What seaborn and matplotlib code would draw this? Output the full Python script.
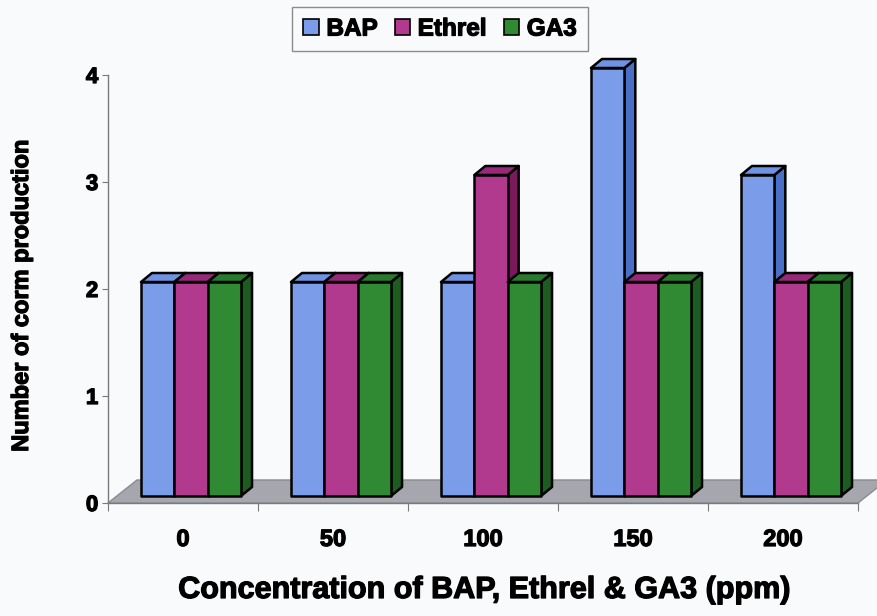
import numpy as np
import pandas as pd
import matplotlib
matplotlib.use('Agg')
import matplotlib.pyplot as plt
import matplotlib.transforms as mtransforms
import matplotlib.patheffects as pe
from matplotlib.patches import Polygon
import seaborn as sns

# data
concentrations = ['0', '50', '100', '150', '200']
bap = [2, 2, 2, 4, 3]
ethrel = [2, 2, 3, 2, 2]
ga3 = [2, 2, 2, 2, 2]
treatments = ['BAP', 'Ethrel', 'GA3']

front_cols = ['#7b9de9', '#b23a8e', '#2f8a33']
side_cols = ['#4a6fc6', '#7a1a5c', '#1d5c21']
top_cols = ['#6f93e3', '#98297a', '#287a2c']

df = pd.DataFrame({
    'conc': concentrations * 3,
    'treatment': np.repeat(treatments, len(concentrations)),
    'value': bap + ethrel + ga3,
})

sns.set_style('white')
plt.rcParams['font.family'] = ['Liberation Sans', 'DejaVu Sans']
plt.rcParams['font.weight'] = 'bold'
plt.rcParams['text.color'] = 'black'
plt.rcParams['axes.labelcolor'] = 'black'
plt.rcParams['xtick.labelcolor'] = 'black'
plt.rcParams['ytick.labelcolor'] = 'black'

thick = [pe.withStroke(linewidth=0.9, foreground='black')]

fig = plt.figure(figsize=(8.77, 6.16), dpi=100, facecolor='#f9fafc')
ax = fig.add_axes([108/877, 113/616, 750/877, 428/616])
ax.set_facecolor('none')

sns.barplot(data=df, x='conc', y='value', hue='treatment', palette=front_cols,
            saturation=1, width=0.667, gap=0, edgecolor='black', linewidth=1.8,
            ax=ax, legend=True)
ax.set_xlim(-0.5, 4.5)
ax.set_ylim(0, 4)

# pixel -> data scale
p0 = ax.transData.transform((0, 0))
p1 = ax.transData.transform((1, 1))
px_x = p1[0] - p0[0]
px_y = p1[1] - p0[1]

# which hue each bar belongs to
bars = []
for hi, cont in enumerate(ax.containers):
    for bar in cont:
        bars.append((bar, hi))
bars.sort(key=lambda b: b[0].get_x())

# floor
fdx, fdy = 29 / px_x, 23 / px_y
floor = Polygon([(-0.5, 0), (4.5, 0), (4.5 + fdx, fdy), (-0.5 + fdx, fdy)],
                closed=True, facecolor='#a6a6ae', edgecolor='#8a8a90', lw=1,
                zorder=1, clip_on=False)
ax.add_patch(floor)

# 3d look for bars: shift fronts, add top and side faces
shift = mtransforms.offset_copy(ax.transData, fig=fig, x=8, y=7, units='dots')
ddx, ddy = 11 / px_x, 9 / px_y
for k, (bar, col) in enumerate(bars):
    x, w, h = bar.get_x(), bar.get_width(), bar.get_height()
    z = 3 + k * 3
    top = Polygon([(x, h), (x + w, h), (x + w + ddx, h + ddy), (x + ddx, h + ddy)],
                  closed=True, facecolor=top_cols[col], edgecolor='black', lw=1.8,
                  transform=shift, zorder=z, clip_on=False, joinstyle='round')
    side = Polygon([(x + w, 0), (x + w + ddx, ddy), (x + w + ddx, h + ddy), (x + w, h)],
                   closed=True, facecolor=side_cols[col], edgecolor='black', lw=1.8,
                   transform=shift, zorder=z, clip_on=False, joinstyle='round')
    ax.add_patch(side)
    ax.add_patch(top)
    bar.set_transform(shift)
    bar.set_zorder(z + 1)
    bar.set_clip_on(False)
    bar.set_joinstyle('round')

# axes styling
for s in ['top', 'right']:
    ax.spines[s].set_visible(False)
for s in ['left', 'bottom']:
    ax.spines[s].set_color('#7a7a7a')
    ax.spines[s].set_linewidth(1)
    ax.spines[s].set_zorder(2)

ax.set_yticks([0, 1, 2, 3, 4])
ax.tick_params(axis='y', direction='out', length=4, color='#7a7a7a',
               labelsize=16, pad=3, left=True)
ax.set_xticks(np.arange(-0.5, 5, 1))
ax.set_xticklabels([])
ax.set_xticks(range(5), minor=True)
ax.set_xticklabels(concentrations, minor=True)
ax.tick_params(axis='x', which='major', direction='out', length=6,
               color='#7a7a7a', bottom=True)
ax.tick_params(axis='x', which='minor', length=0, labelsize=17, pad=18)
for t in ax.get_yticklabels() + ax.get_xticklabels(minor=True):
    t.set_fontweight('bold')
    t.set_path_effects(thick)

ax.set_xlabel('Concentration of BAP, Ethrel & GA3 (ppm)', fontsize=22,
              fontweight='bold', path_effects=thick)
ax.xaxis.set_label_coords((484 - 108) / 750, -(590 - 503) / 428)
ax.xaxis.label.set_va('center')
ax.set_ylabel('Number of corm production', fontsize=17, fontweight='bold',
              path_effects=thick)
ax.yaxis.set_label_coords(-0.1, 0.485)

handles, labels = ax.get_legend_handles_labels()
ax.get_legend().remove()
for hdl in handles:
    hdl.set_edgecolor('black')
    hdl.set_linewidth(1.2)
leg = fig.legend(handles, labels, loc='center', bbox_to_anchor=(440/877, 1 - 29/616),
                 ncol=3, frameon=True, fancybox=False, edgecolor='#707070',
                 handlelength=0.65, handleheight=0.65, handletextpad=0.3,
                 columnspacing=0.7, borderpad=0.45,
                 prop={'weight': 'bold', 'size': 17.5})
leg.get_frame().set_linewidth(1)
leg.get_frame().set_facecolor('#f9fafc')
for t in leg.get_texts():
    t.set_path_effects(thick)

plt.savefig('out.png', dpi=100, facecolor=fig.get_facecolor())
